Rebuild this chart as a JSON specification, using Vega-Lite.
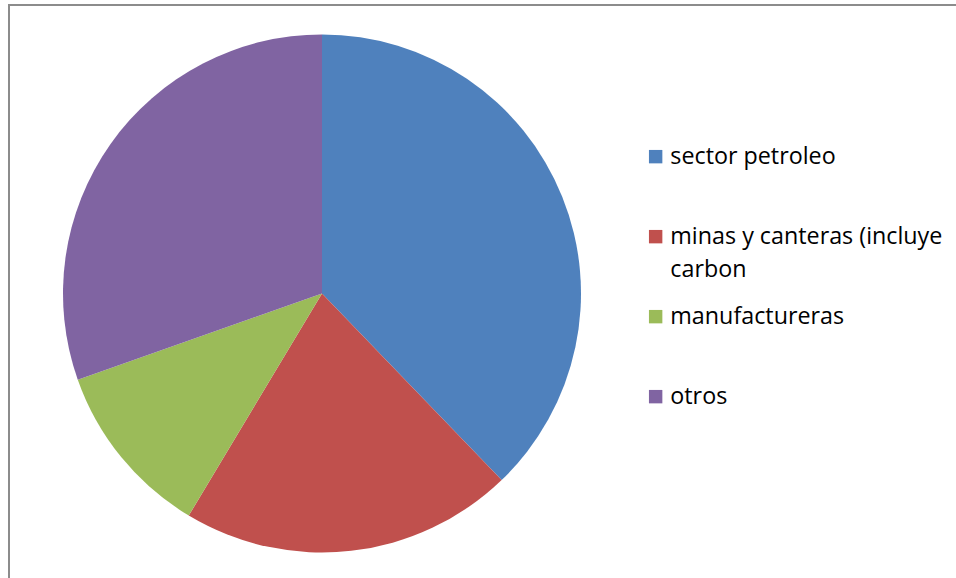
{
  "$schema": "https://vega.github.io/schema/vega-lite/v6.json",
  "padding": {"left": 8, "top": 4, "right": 0, "bottom": 0},
  "background": "white",
  "spacing": 0,
  "bounds": "flush",
  "vconcat": [
    {
      "width": 947,
      "height": 0.01,
      "view": {"stroke": "#8C8C8C", "strokeWidth": 2},
      "data": {"values": []},
      "mark": "point"
    },
    {
      "width": 626,
      "height": 575,
      "view": {"stroke": "#8C8C8C", "strokeWidth": 2, "strokeDash": [0, 1827, 575, 0]},
      "data": {
        "values": [
          {"idx": 1, "sector": "sector petroleo", "pct": 37.8},
          {"idx": 2, "sector": "minas y canteras (incluye carbon", "pct": 20.8},
          {"idx": 3, "sector": "manufactureras", "pct": 11.0},
          {"idx": 4, "sector": "otros", "pct": 30.4}
        ]
      },
      "mark": {"type": "arc", "outerRadius": 259, "stroke": null},
      "encoding": {
        "theta": {"field": "pct", "type": "quantitative", "stack": true},
        "order": {"field": "idx", "type": "quantitative"},
        "color": {
          "field": "sector",
          "type": "nominal",
          "scale": {
            "domain": ["sector petroleo", "minas y canteras (incluye carbon", "manufactureras", "otros"],
            "range": ["#4F81BD", "#C0504D", "#9BBB59", "#8064A2"]
          },
          "legend": {
            "title": null,
            "orient": "none",
            "legendX": 635,
            "legendY": 140,
            "symbolType": "square",
            "symbolSize": 180,
            "symbolStrokeWidth": 0,
            "symbolOpacity": 1,
            "labelFont": "Open Sans",
            "labelFontSize": 23.3,
            "labelColor": "#000000",
            "labelOffset": 3,
            "labelLimit": 400,
            "gridAlign": "all",
            "rowPadding": 23,
            "labelExpr": "datum.label == 'minas y canteras (incluye carbon' ? ['minas y canteras (incluye', 'carbon'] : datum.label"
          }
        }
      }
    }
  ],
  "config": {
    "style": {"guide-label": {"lineHeight": 33}}
  }
}
